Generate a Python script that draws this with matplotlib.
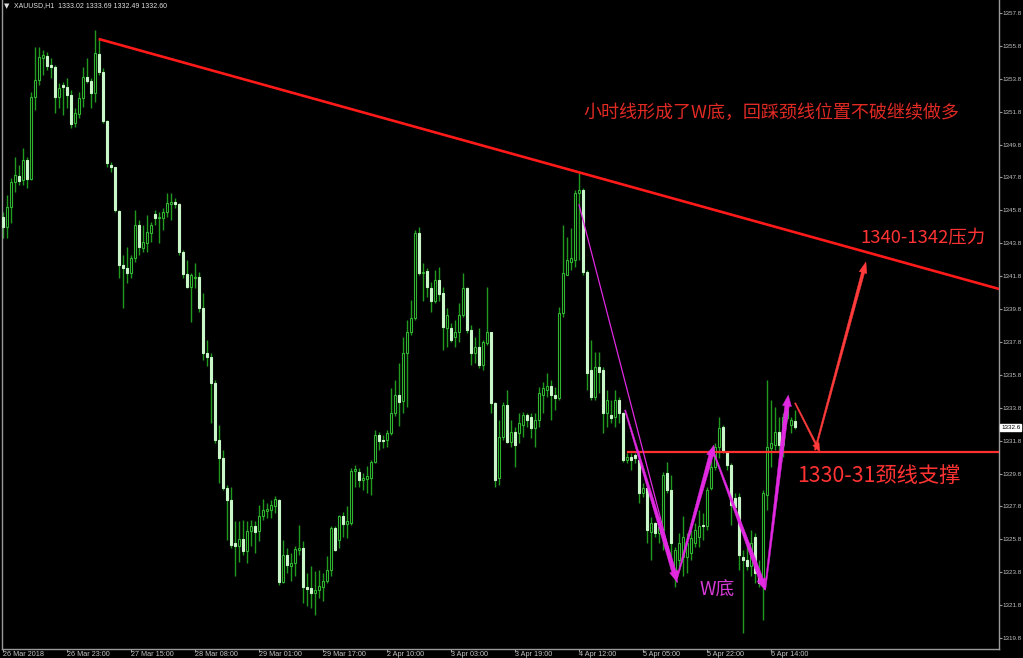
import numpy as np
import matplotlib
matplotlib.use("Agg")
import matplotlib.pyplot as plt
from matplotlib.patches import Polygon
from matplotlib.transforms import blended_transform_factory

# ---------------- XAUUSD H1 price data (bar index = position on chart) ----------------
opens = [
    1345.42, 1344.81, 1346.03, 1347.55, 1347.91, 1347.65, 1348.86, 1347.71, 1352.71, 1353.73,
    1355.08, 1355.21, 1354.60, 1354.54, 1352.71, 1353.42, 1353.32, 1352.82, 1351.09, 1351.64,
    1352.61, 1353.93, 1353.67, 1352.92, 1355.29, 1354.23, 1351.24, 1348.56, 1348.46, 1345.77,
    1342.48, 1342.32, 1341.98, 1342.89, 1344.91, 1343.54, 1343.80, 1344.41, 1345.56, 1345.32,
    1345.36, 1345.72, 1346.21, 1346.33, 1346.17, 1343.29, 1341.92, 1341.17, 1341.67, 1341.77,
    1339.85, 1337.12, 1336.91, 1335.29, 1331.85, 1330.73, 1328.91, 1328.16, 1325.57, 1325.41,
    1325.81, 1325.06, 1326.28, 1326.58, 1326.28, 1327.19, 1327.55, 1327.59, 1327.84, 1328.20,
    1323.18, 1324.86, 1324.19, 1324.35, 1325.16, 1325.26, 1322.93, 1322.83, 1322.53, 1322.69,
    1322.93, 1323.24, 1323.95, 1326.48, 1325.77, 1327.23, 1326.74, 1326.78, 1329.98, 1329.92,
    1329.42, 1329.46, 1329.52, 1330.47, 1332.15, 1331.85, 1331.81, 1332.25, 1333.47, 1334.58,
    1334.18, 1337.12, 1338.43, 1339.24, 1344.41, 1341.98, 1342.14, 1341.07, 1340.26, 1341.57,
    1340.76, 1338.63, 1338.63, 1338.12, 1338.43, 1339.44, 1341.06, 1338.53, 1337.11, 1337.51,
    1336.40, 1337.72, 1338.39, 1334.07, 1329.51, 1332.04, 1333.97, 1331.74, 1332.35, 1332.25,
    1332.75, 1333.36, 1333.26, 1332.55, 1333.06, 1334.58, 1334.88, 1335.12, 1334.58, 1334.37,
    1339.54, 1341.87, 1342.68, 1342.78, 1346.83, 1347.04, 1342.07, 1336.10, 1334.48, 1336.30,
    1336.10, 1333.46, 1333.36, 1333.26, 1334.27, 1333.46, 1330.63, 1330.83, 1330.93, 1330.63,
    1328.60, 1328.90, 1326.27, 1326.78, 1326.17, 1326.37, 1329.82, 1328.80, 1323.74, 1324.55,
    1324.75, 1324.75, 1324.96, 1325.57, 1325.97, 1326.68, 1326.58, 1328.91, 1330.22, 1331.44,
    1332.62, 1331.08, 1330.33, 1328.30, 1328.40, 1324.75, 1324.55, 1324.15, 1325.97, 1323.74,
    1323.13, 1328.50, 1331.34, 1331.54, 1332.35, 1331.54, 1333.16, 1332.76, 1333.02,
]
highs = [
    1345.72, 1346.74, 1347.75, 1349.07, 1348.56, 1349.57, 1349.07, 1353.02, 1355.75, 1355.75,
    1355.55, 1355.45, 1355.04, 1354.64, 1353.52, 1353.63, 1353.83, 1353.12, 1352.00, 1353.02,
    1354.54, 1355.04, 1353.83, 1356.77, 1356.26, 1354.44, 1351.30, 1348.76, 1348.46, 1345.83,
    1343.09, 1343.60, 1343.09, 1345.83, 1345.22, 1344.91, 1345.52, 1345.12, 1345.83, 1345.72,
    1345.97, 1346.84, 1346.84, 1346.54, 1346.23, 1343.39, 1342.79, 1341.98, 1342.58, 1342.08,
    1340.76, 1337.93, 1337.12, 1335.50, 1332.76, 1331.24, 1329.11, 1329.01, 1326.89, 1326.89,
    1326.99, 1326.89, 1326.99, 1326.89, 1327.90, 1328.24, 1328.00, 1328.20, 1328.41, 1328.24,
    1325.77, 1325.26, 1324.96, 1325.37, 1326.68, 1325.67, 1323.74, 1324.15, 1323.85, 1323.95,
    1323.74, 1324.76, 1326.58, 1326.58, 1327.29, 1327.49, 1327.80, 1330.13, 1330.33, 1330.13,
    1329.82, 1330.23, 1330.63, 1332.46, 1332.35, 1332.15, 1332.46, 1334.99, 1335.50, 1336.51,
    1338.13, 1339.14, 1340.36, 1344.61, 1344.81, 1342.59, 1342.28, 1341.47, 1342.18, 1342.38,
    1341.16, 1339.85, 1338.93, 1339.14, 1340.15, 1341.97, 1341.16, 1338.83, 1338.12, 1338.63,
    1337.92, 1341.16, 1338.43, 1334.17, 1333.06, 1334.17, 1334.88, 1333.06, 1332.65, 1333.46,
    1333.56, 1333.46, 1333.46, 1333.46, 1335.08, 1335.39, 1335.89, 1335.49, 1335.08, 1339.95,
    1344.91, 1344.20, 1344.71, 1347.04, 1348.05, 1347.14, 1342.17, 1337.92, 1337.21, 1337.21,
    1336.30, 1334.88, 1334.27, 1334.88, 1334.48, 1333.56, 1331.03, 1331.03, 1331.03, 1331.03,
    1329.21, 1329.01, 1327.18, 1326.88, 1327.18, 1329.92, 1330.53, 1329.71, 1325.36, 1326.17,
    1327.19, 1326.17, 1326.38, 1326.78, 1327.59, 1327.39, 1329.01, 1330.63, 1331.64, 1333.26,
    1332.76, 1331.14, 1330.43, 1328.60, 1328.60, 1325.16, 1325.46, 1326.38, 1326.17, 1324.55,
    1328.81, 1335.49, 1334.28, 1333.87, 1333.26, 1333.47, 1333.87, 1333.26, 1333.69,
]
lows = [
    1344.10, 1344.10, 1345.02, 1346.94, 1347.35, 1347.35, 1347.14, 1347.65, 1351.90, 1353.42,
    1354.03, 1354.34, 1353.83, 1351.70, 1352.00, 1351.60, 1352.00, 1350.79, 1350.89, 1351.40,
    1352.11, 1353.52, 1352.00, 1352.41, 1354.03, 1351.09, 1348.46, 1348.16, 1345.72, 1341.67,
    1339.85, 1341.37, 1341.67, 1342.69, 1343.09, 1343.29, 1343.29, 1343.90, 1344.91, 1343.80,
    1344.61, 1345.42, 1345.22, 1345.93, 1343.09, 1341.67, 1341.06, 1339.04, 1341.06, 1339.65,
    1336.71, 1336.31, 1332.86, 1331.65, 1329.21, 1328.81, 1325.77, 1325.26, 1323.54, 1324.45,
    1324.86, 1324.35, 1325.37, 1324.96, 1325.67, 1326.99, 1327.09, 1327.09, 1327.39, 1323.04,
    1323.14, 1323.74, 1323.24, 1323.54, 1324.86, 1321.92, 1321.72, 1321.62, 1321.21, 1322.22,
    1322.02, 1323.14, 1323.54, 1325.06, 1325.26, 1325.97, 1325.87, 1326.68, 1329.01, 1329.01,
    1328.81, 1328.61, 1328.51, 1330.43, 1331.24, 1331.34, 1331.44, 1332.15, 1333.27, 1332.66,
    1333.47, 1333.87, 1338.23, 1339.14, 1341.88, 1340.26, 1340.56, 1339.65, 1340.15, 1340.26,
    1337.31, 1337.51, 1337.82, 1337.51, 1337.82, 1339.34, 1338.32, 1336.40, 1336.50, 1336.20,
    1336.10, 1337.62, 1333.46, 1329.01, 1329.11, 1331.84, 1331.64, 1331.44, 1330.22, 1331.64,
    1332.04, 1332.65, 1331.94, 1331.44, 1332.65, 1333.46, 1334.48, 1333.06, 1333.66, 1334.27,
    1339.34, 1341.87, 1342.17, 1342.38, 1342.78, 1341.87, 1334.88, 1334.27, 1334.27, 1334.68,
    1332.25, 1332.65, 1332.85, 1332.65, 1332.85, 1330.53, 1330.42, 1330.02, 1330.42, 1327.99,
    1328.40, 1325.56, 1324.55, 1325.97, 1325.56, 1325.16, 1328.60, 1323.94, 1322.93, 1323.94,
    1323.54, 1323.74, 1324.55, 1325.36, 1325.36, 1325.77, 1326.38, 1328.81, 1330.02, 1330.73,
    1331.04, 1330.02, 1326.68, 1327.59, 1323.94, 1320.09, 1323.94, 1323.54, 1323.13, 1322.93,
    1320.91, 1327.59, 1330.22, 1331.24, 1331.04, 1330.83, 1333.06, 1332.25, 1332.49,
]
closes = [
    1344.81, 1346.03, 1347.55, 1347.95, 1347.59, 1348.86, 1347.71, 1352.71, 1353.73, 1355.15,
    1355.25, 1354.60, 1354.54, 1352.71, 1353.22, 1353.32, 1352.82, 1351.03, 1351.70, 1352.61,
    1353.93, 1353.67, 1352.92, 1355.35, 1354.23, 1351.24, 1348.66, 1348.46, 1345.83, 1342.48,
    1342.32, 1341.98, 1342.89, 1344.91, 1343.60, 1343.86, 1344.51, 1344.91, 1345.32, 1345.42,
    1345.72, 1346.23, 1346.33, 1346.17, 1343.29, 1341.92, 1341.17, 1341.88, 1341.77, 1339.85,
    1337.12, 1336.91, 1335.29, 1331.85, 1330.73, 1328.91, 1328.16, 1325.47, 1325.41, 1325.81,
    1325.06, 1326.28, 1326.58, 1326.22, 1327.23, 1327.59, 1327.63, 1327.90, 1328.24, 1323.18,
    1324.86, 1324.25, 1324.35, 1325.20, 1325.26, 1322.93, 1322.77, 1322.53, 1322.69, 1322.97,
    1323.24, 1323.95, 1326.48, 1325.16, 1327.19, 1326.74, 1326.89, 1329.98, 1330.07, 1329.42,
    1329.52, 1329.62, 1330.53, 1332.15, 1331.75, 1331.75, 1332.29, 1333.47, 1334.58, 1334.12,
    1337.12, 1338.43, 1339.24, 1344.41, 1342.02, 1342.08, 1341.17, 1340.26, 1341.57, 1340.72,
    1338.73, 1339.44, 1337.92, 1338.43, 1339.44, 1341.06, 1338.53, 1337.11, 1337.51, 1336.40,
    1337.82, 1338.39, 1334.07, 1329.41, 1332.04, 1333.97, 1331.74, 1332.35, 1331.54, 1332.85,
    1333.36, 1333.06, 1332.55, 1333.06, 1334.68, 1334.98, 1335.12, 1334.58, 1334.37, 1339.54,
    1341.97, 1342.78, 1342.88, 1346.83, 1347.04, 1342.07, 1335.89, 1334.48, 1336.30, 1336.00,
    1333.46, 1334.27, 1333.16, 1334.27, 1333.46, 1330.63, 1330.83, 1330.63, 1330.73, 1328.60,
    1328.90, 1326.37, 1326.78, 1326.17, 1326.57, 1329.71, 1328.80, 1325.56, 1325.16, 1325.57,
    1325.97, 1325.57, 1325.87, 1326.38, 1326.58, 1326.58, 1328.81, 1330.22, 1331.44, 1332.55,
    1331.14, 1330.33, 1327.89, 1327.79, 1324.86, 1324.55, 1324.15, 1325.57, 1323.74, 1323.13,
    1328.60, 1331.44, 1331.64, 1332.35, 1331.54, 1333.26, 1333.67, 1333.06, 1332.60,
]

time_tick_bars = [0, 16, 32, 48, 64, 80, 96, 112, 128, 144, 160, 176, 192]
time_tick_labels = ["26 Mar 2018", "26 Mar 23:00", "27 Mar 15:00", "28 Mar 08:00",
                    "29 Mar 01:00", "29 Mar 17:00", "2 Apr 10:00", "3 Apr 03:00",
                    "3 Apr 19:00", "4 Apr 12:00", "5 Apr 05:00", "5 Apr 22:00",
                    "6 Apr 14:00"]
price_ticks = [1319.8 + 2.0 * k for k in range(20)]

# analysis drawings (bar index, price)
trend_line = [(24.0, 1356.22), (249.1, 1341.02)]
neck_price = 1331.11
neck_start = 156.3
w_guide = [(144.1, 1346.13), (168.6, 1323.20)]
w_legs = [
    [(155.6, 1333.66), (168.6, 1323.20)],
    [(168.6, 1323.44), (177.8, 1331.53)],
    [(177.5, 1331.23), (190.6, 1322.72)],
    [(190.6, 1322.72), (196.4, 1334.57)],
]
pullback_arrow = [(198.1, 1334.09), (204.3, 1331.11)]
target_arrow = [(203.1, 1331.23), (215.8, 1342.66)]

symbol = "XAUUSD,H1"
last_quote = (1333.02, 1333.69, 1332.49, 1332.60)

# ---------------- figure ----------------
W, H = 1023, 658
BG = "black"
WICK = "#1f9a1f"
BULL_EDGE = "#2fb52f"
BEAR_FILL = "#c9f7c9"
AXIS_GREY = "#9a9a9a"
LABEL_GREY = "#c4c4c4"
RED = "#ff1a1a"
MAGENTA = "#e029e0"
CJK = ["Noto Sans CJK SC", "DejaVu Sans"]
SMALL = ["Liberation Sans", "DejaVu Sans"]

fig = plt.figure(figsize=(W / 100, H / 100), dpi=100, facecolor=BG)
ax = fig.add_axes([2 / W, 9 / H, 997 / W, 649 / H])
ax.set_facecolor(BG)
ax.set_xlim(-0.175, 249.075)
ax.set_ylim(1319.13, 1358.59)

o = np.array(opens)
h = np.array(highs)
l = np.array(lows)
c = np.array(closes)
x = np.arange(len(o))
up = c >= o
body_lo = np.minimum(o, c)
body_h = np.maximum(np.abs(c - o), 0.07)

ax.vlines(x, l, h, color=WICK, lw=1.0, zorder=2)
ax.bar(x[up], body_h[up], bottom=body_lo[up], width=0.5, facecolor="black",
       edgecolor=BULL_EDGE, linewidth=0.8, zorder=3)
ax.bar(x[~up], body_h[~up], bottom=body_lo[~up], width=0.5, facecolor=BEAR_FILL,
       edgecolor=BEAR_FILL, linewidth=0.8, zorder=3)

# ---------------- axes styling ----------------
for side in ("left", "right", "bottom"):
    ax.spines[side].set_color(AXIS_GREY)
    ax.spines[side].set_linewidth(1.0)
ax.spines["top"].set_visible(False)

ax.yaxis.tick_right()
ax.set_yticks(price_ticks)
ax.set_yticklabels([f"{p:.1f}" for p in price_ticks], fontsize=4.5,
                   color=LABEL_GREY, family=SMALL)
ax.tick_params(axis="y", length=2, width=0.8, color=AXIS_GREY, pad=0.8)

ax.set_xticks(time_tick_bars)
ax.set_xticklabels(time_tick_labels, fontsize=5.2, color=LABEL_GREY,
                   family=SMALL, ha="left")
ax.tick_params(axis="x", length=2, width=0.8, color=AXIS_GREY, pad=-0.3)

# current price marker on the price scale
ytr = blended_transform_factory(ax.transAxes, ax.transData)
ax.text(1.0022, last_quote[3], f"{last_quote[3]:.1f}", transform=ytr, fontsize=4.5,
        family=SMALL, color="black", va="center", ha="left", clip_on=False,
        bbox=dict(boxstyle="square,pad=0.12", facecolor="white", edgecolor="white"),
        zorder=10)

# header
fig.text(4 / W, 1 - 6 / H, "\u25bc", fontsize=5, color="#e0e0e0", va="center",
         ha="left", family=["DejaVu Sans"])
fig.text(14 / W, 1 - 6 / H, f"{symbol}  " + " ".join(f"{v:.2f}" for v in last_quote),
         fontsize=5.0, color="#e0e0e0", va="center", ha="left", family=SMALL)

# ---------------- drawings ----------------
def tapered_arrow(p0, p1, w0, w1, head_len, head_w, color, z=6):
    T = ax.transData
    a = T.transform(p0)
    b = T.transform(p1)
    d = b - a
    u = d / np.hypot(*d)
    n = np.array([-u[1], u[0]])
    base = b - u * head_len
    pts = [a + n * w0 / 2, base + n * w1 / 2, base + n * head_w / 2, b,
           base - n * head_w / 2, base - n * w1 / 2, a - n * w0 / 2]
    pts = T.inverted().transform(np.array(pts))
    ax.add_patch(Polygon(pts, closed=True, facecolor=color, edgecolor=color,
                         lw=0.3, zorder=z))

(tx0, ty0), (tx1, ty1) = trend_line
ax.plot([tx0, tx1], [ty0, ty1], color=RED, lw=1.9, zorder=5, solid_capstyle="butt")
ax.plot([neck_start, ax.get_xlim()[1]], [neck_price, neck_price], color="#ff3030",
        lw=1.6, zorder=5)

ax.plot(*zip(*w_guide), color=MAGENTA, lw=0.9, zorder=6)
for p0, p1 in w_legs:
    tapered_arrow(p0, p1, 1.2, 4.5, 11, 9, MAGENTA)

tapered_arrow(*pullback_arrow, 1.3, 1.8, 9, 7, "#ff3b3b")
tapered_arrow(*target_arrow, 1.5, 3.2, 11, 8, "#ff3b3b")

ax.text(145.3, 1351.72, "小时线形成了W底，回踩颈线位置不破继续做多", fontsize=13,
        color="#e02a24", family=CJK, va="center", ha="left", zorder=8)
ax.text(214.3, 1344.12, "1340-1342压力", fontsize=13.3, color="#ff3333", family=CJK,
        va="center", ha="left", zorder=8)
ax.text(198.6, 1329.65, "1330-31颈线支撑", fontsize=15.3, color="#ff3333", family=CJK,
        va="center", ha="left", zorder=8)
ax.text(174.3, 1322.72, "W底", fontsize=13.5, color="#d63ad6", family=CJK,
        va="center", ha="left", zorder=8)

fig.savefig("out.png", dpi=100, facecolor=BG)
